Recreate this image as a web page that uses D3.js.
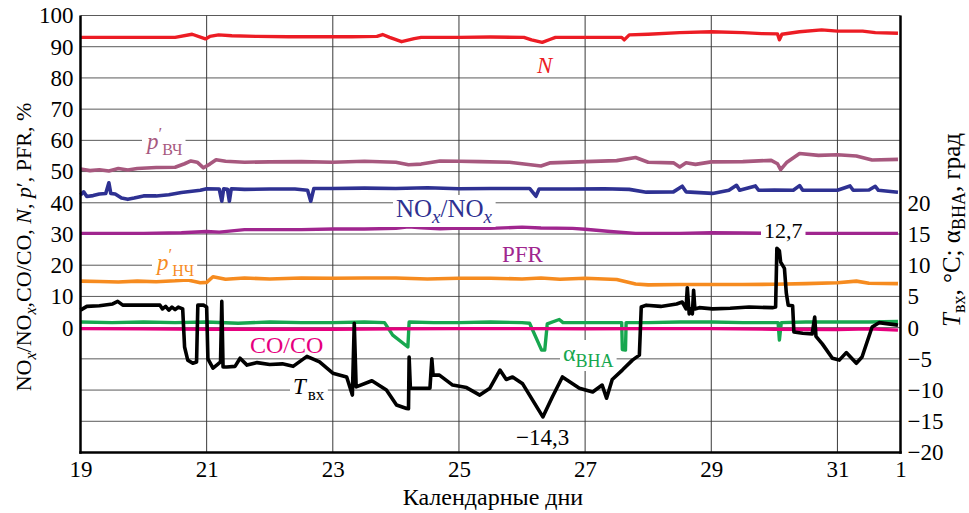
<!DOCTYPE html>
<html><head><meta charset="utf-8">
<script src="https://cdn.jsdelivr.net/npm/d3@7"></script>
<style>
body{margin:0;background:#fff}
svg{display:block}
</style>
</head><body>
<svg id="c" width="969" height="513" font-family="'Liberation Serif', 'DejaVu Serif', serif"></svg>
<script>
// ---------- data (day of month, value) ----------
const xTicks = [19,21,23,25,27,29,31,32];
const xTickLabels = ["19","21","23","25","27","29","31","1"];
const leftTicks = [0,10,20,30,40,50,60,70,80,90,100];
const rightTicks = [-20,-15,-10,-5,0,5,10,15,20];

// N, % (left axis)
const N_pts = [[19,93.0],[19.5,93.0],[20.0,93.0],[20.5,93.0],[20.77,94.0],[20.98,92.5],[21.05,93.3],[21.19,93.8],[21.4,93.5],[21.8,93.3],[22.3,93.2],[22.8,93.2],[23.3,93.2],[23.7,93.3],[23.79,93.9],[23.9,93.0],[24.09,91.6],[24.29,92.6],[24.4,93.0],[25,93.0],[25.5,93.1],[26.03,93.0],[26.15,92.2],[26.32,91.4],[26.45,92.4],[26.53,93.0],[27,93.0],[27.58,93.0],[27.62,92.2],[27.7,93.8],[28.0,94.0],[28.5,94.5],[29.0,94.8],[29.5,94.5],[29.8,94.2],[30.05,94.1],[30.08,92.2],[30.12,94.0],[30.4,94.8],[30.75,95.4],[31.0,95.0],[31.4,95.0],[31.6,94.5],[31.96,94.3]];
// p'ВЧ, %
const pVCh_pts = [[19,50.8],[19.15,50.3],[19.3,50.6],[19.45,50.2],[19.6,51.0],[19.75,50.5],[19.9,51.0],[20.2,51.3],[20.5,51.4],[20.65,52.5],[20.75,53.4],[20.85,53.0],[20.95,51.2],[21.05,52.4],[21.15,53.8],[21.3,53.3],[21.6,53.0],[22,53.1],[22.5,53.2],[23,53.0],[23.5,53.3],[24.0,53.0],[24.2,52.2],[24.4,52.4],[24.7,53.4],[25,53.3],[25.33,53.2],[25.8,53.0],[26.3,51.8],[26.45,52.8],[27.0,53.2],[27.5,53.5],[27.8,54.5],[28.0,53.0],[28.4,52.8],[28.5,51.5],[28.6,52.8],[28.75,52.3],[29,53.1],[29.5,53.2],[29.95,53.6],[30.05,52.5],[30.1,50.6],[30.2,53.0],[30.4,55.8],[30.7,55.2],[31.0,55.4],[31.3,55.0],[31.55,53.7],[31.96,53.9]];
// NOx/NOx, %
const NOx_pts = [[19,42.5],[19.05,43.5],[19.1,42.0],[19.2,42.3],[19.3,42.8],[19.4,43.0],[19.45,46.4],[19.48,43.0],[19.55,42.8],[19.65,41.5],[19.75,41.1],[19.85,41.5],[20.0,42.2],[20.2,42.2],[20.4,42.6],[20.6,43.3],[20.9,44.0],[21.0,44.5],[21.2,44.4],[21.24,40.5],[21.27,44.5],[21.33,44.3],[21.36,40.5],[21.39,44.5],[21.6,44.3],[22.0,44.4],[22.4,44.4],[22.6,44.0],[22.65,40.5],[22.7,44.6],[23.0,44.6],[23.5,44.7],[24.0,44.6],[24.5,44.8],[25.0,44.5],[25.5,44.6],[26.12,44.6],[26.22,42.1],[26.27,44.4],[26.8,44.4],[27.3,44.5],[27.7,44.3],[27.97,43.4],[28.4,43.5],[28.54,45.3],[28.6,43.5],[29.02,43.0],[29.28,44.0],[29.4,45.6],[29.45,44.0],[29.7,45.4],[29.75,44.0],[30.0,44.1],[30.3,44.0],[30.4,45.5],[30.45,44.0],[31.0,44.0],[31.2,45.4],[31.25,44.0],[31.5,44.1],[31.6,45.3],[31.65,44.0],[31.96,43.4]];
// PFR, %
const PFR_pts = [[19,30.2],[20,30.2],[20.6,30.4],[21.0,30.8],[21.2,30.6],[21.4,31.0],[21.6,31.4],[22.5,31.4],[23.0,31.6],[23.5,31.6],[24.0,31.8],[24.2,32.3],[24.4,32.0],[24.7,31.7],[25.0,31.9],[25.5,31.8],[26.0,32.2],[26.3,31.9],[26.8,31.8],[27.0,31.5],[27.4,30.8],[27.8,30.2],[28.5,30.2],[29,30.4],[29.5,30.3],[30,30.2],[31,30.2],[31.96,30.2]];
// p'НЧ, %
const pNCh_pts = [[19,14.9],[19.3,14.8],[19.6,14.6],[19.9,14.9],[20.2,14.7],[20.5,15.0],[20.7,15.3],[20.9,14.4],[21.0,14.5],[21.1,16.3],[21.3,15.5],[21.6,15.9],[22,15.6],[22.5,15.9],[23,15.8],[23.5,15.9],[24,15.9],[24.5,15.6],[25,15.8],[25.5,15.8],[26,15.6],[26.3,15.9],[26.6,15.5],[27,15.8],[27.5,15.4],[27.8,14.0],[28,13.7],[28.5,13.8],[29,13.8],[29.5,13.8],[30,13.9],[30.5,14.1],[31.0,14.4],[31.3,14.9],[31.5,14.2],[31.96,14.1]];
// CO/CO, %
const CO_pts = [[19,-0.3],[20,-0.4],[21,-0.5],[22,-0.5],[23,-0.5],[24,-0.4],[25,-0.3],[26,-0.3],[27,-0.4],[28,-0.3],[29,-0.3],[30,-0.5],[31,-0.6],[31.5,-0.4],[31.96,-0.8]];
// alpha ВНА, deg (right axis)
const alpha_pts = [[19,0.9],[19.5,0.8],[20,0.9],[20.5,0.8],[21,0.9],[21.5,0.7],[22,0.9],[22.5,0.8],[23,0.8],[23.5,0.9],[23.82,0.8],[23.95,-1.2],[24.19,-3.1],[24.21,0.9],[24.6,0.8],[25,0.8],[25.5,0.9],[26.0,0.8],[26.12,0.7],[26.31,-3.6],[26.36,-3.6],[26.40,0.6],[26.59,1.3],[26.65,0.8],[27.0,0.8],[27.58,0.8],[27.59,-3.5],[27.64,-3.6],[27.65,0.8],[28,0.8],[28.5,0.9],[29,0.9],[29.5,0.8],[30.06,0.8],[30.08,-2.0],[30.11,0.8],[30.5,0.9],[31,0.9],[31.5,0.9],[31.96,1.0]];
// T вх, °C (right axis)
const T_pts = [[19.00,2.8],[19.10,3.4],[19.30,3.5],[19.51,3.8],[19.59,4.2],[19.67,3.6],[20.00,3.6],[20.26,3.6],[20.30,3.0],[20.35,3.4],[20.40,2.8],[20.45,3.3],[20.50,2.9],[20.55,3.3],[20.62,3.0],[20.65,-3.1],[20.70,-5.2],[20.78,-5.7],[20.84,-5.5],[20.86,3.6],[20.95,3.6],[21.00,3.3],[21.02,-5.0],[21.10,-6.5],[21.16,-6.0],[21.22,-5.5],[21.24,4.2],[21.26,-6.3],[21.32,-6.3],[21.45,-6.2],[21.53,-4.9],[21.64,-6.0],[21.80,-5.6],[22.00,-5.9],[22.20,-5.8],[22.37,-6.2],[22.59,-4.6],[22.79,-5.5],[23.00,-7.3],[23.22,-7.9],[23.31,-10.8],[23.34,0.7],[23.37,-9.5],[23.62,-8.5],[23.85,-10.0],[24.01,-12.4],[24.17,-12.95],[24.20,-13.0],[24.21,-4.7],[24.23,-9.7],[24.54,-9.7],[24.57,-5.0],[24.59,-7.6],[24.69,-7.6],[24.90,-9.2],[25.12,-9.6],[25.33,-10.8],[25.49,-9.7],[25.65,-6.8],[25.75,-8.3],[25.85,-7.9],[26.01,-9.0],[26.33,-14.3],[26.48,-11.1],[26.64,-7.9],[26.91,-9.7],[27.12,-10.3],[27.27,-9.2],[27.34,-11.3],[27.43,-8.3],[27.59,-6.8],[27.75,-5.2],[27.86,-4.4],[27.89,3.3],[27.97,3.6],[28.20,3.4],[28.45,3.8],[28.54,4.1],[28.60,3.0],[28.62,6.4],[28.65,2.2],[28.68,3.0],[28.70,2.2],[28.72,6.0],[28.74,3.0],[28.81,3.2],[29.02,3.0],[29.30,3.1],[29.60,3.3],[29.97,3.2],[30.02,3.3],[30.04,12.7],[30.08,12.3],[30.10,10.5],[30.16,9.5],[30.19,5.5],[30.22,3.6],[30.29,3.5],[30.31,-0.7],[30.45,-0.9],[30.60,-1.0],[30.64,1.7],[30.66,-1.4],[30.76,-2.6],[30.92,-4.9],[31.03,-5.2],[31.14,-4.0],[31.30,-5.7],[31.39,-4.7],[31.55,0.1],[31.66,0.8],[31.96,0.4]];

// ---------- chart ----------
const FONT = "'Liberation Serif', 'DejaVu Serif', serif";
const svg = d3.select("#c");
const X0 = 80.5, X1 = 900.5, Y0 = 452.5, Y1 = 15.5;
const x = d3.scaleLinear().domain([19,32]).range([X0,X1]);
const yL = d3.scaleLinear().domain([-40,100]).range([Y0,Y1]);
const yR = d3.scaleLinear().domain([-20,50]).range([Y0,Y1]);

// grid
const grid = svg.append("g");
grid.selectAll("line.h").data(d3.range(-30,101,10)).join("line")
  .attr("x1",X0).attr("x2",X1).attr("y1",d=>yL(d)).attr("y2",d=>yL(d))
  .attr("stroke","#5a5a5a").attr("stroke-width",1);
grid.selectAll("line.v").data([21,23,25,27,29,31]).join("line")
  .attr("x1",d=>x(d)).attr("x2",d=>x(d)).attr("y1",Y1).attr("y2",Y0)
  .attr("stroke","#3a3a3a").attr("stroke-width",1);

// series
const series = [
  {pts:N_pts, y:yL, color:"#ec1c24", w:3.4},
  {pts:pVCh_pts, y:yL, color:"#a7587e", w:3.6},
  {pts:NOx_pts, y:yL, color:"#2e3192", w:3.6},
  {pts:PFR_pts, y:yL, color:"#a0268f", w:3.4},
  {pts:pNCh_pts, y:yL, color:"#f68b1f", w:3.6},
  {pts:alpha_pts, y:yR, color:"#17a74f", w:3.4},
  {pts:CO_pts, y:yL, color:"#e6007e", w:3.4},
  {pts:T_pts, y:yR, color:"#000000", w:3.6}
];
const lg = svg.append("g");
series.forEach(s=>{
  const line = d3.line().x(d=>x(d[0])).y(d=>s.y(d[1]));
  lg.append("path").attr("d",line(s.pts)).attr("fill","none")
    .attr("stroke",s.color).attr("stroke-width",s.w).attr("stroke-linejoin","round");
});

// axes frame
const fr = svg.append("g").attr("stroke","#000").attr("stroke-width",2.5);
fr.append("line").attr("x1",X0).attr("x2",X0).attr("y1",Y1).attr("y2",Y0+1.2);
fr.append("line").attr("x1",X1).attr("x2",X1).attr("y1",Y1).attr("y2",Y0+1.2);
fr.append("line").attr("x1",X0-1.2).attr("x2",X1+1.2).attr("y1",Y0).attr("y2",Y0);

// axis labels
const fs = 23;
const axL = svg.append("g").attr("transform",`translate(${X0},0)`)
  .call(d3.axisLeft(yL).tickValues(leftTicks).tickSize(0).tickPadding(7));
const axR = svg.append("g").attr("transform",`translate(${X1},0)`)
  .call(d3.axisRight(yR).tickValues(rightTicks).tickSize(0).tickPadding(7));
const axB = svg.append("g").attr("transform",`translate(0,${Y0})`)
  .call(d3.axisBottom(x).tickValues(xTicks).tickFormat((d,i)=>xTickLabels[i]).tickSize(0).tickPadding(8));
[axL,axR,axB].forEach(a=>{
  a.attr("font-family",FONT).attr("font-size",fs);
  a.select(".domain").remove();
  a.selectAll("text").attr("fill","#000");
});

// axis titles
svg.append("text").attr("x",493).attr("y",505).attr("text-anchor","middle")
  .attr("font-family",FONT).attr("font-size",24).text("Календарные дни");

const lt = svg.append("text").attr("transform","translate(31,247) rotate(-90)")
  .attr("text-anchor","middle").attr("font-family",FONT).attr("font-size",22);
lt.append("tspan").text("NO");
lt.append("tspan").attr("font-style","italic").attr("font-size",16).attr("dy",5).text("x");
lt.append("tspan").attr("dy",-5).text("/NO");
lt.append("tspan").attr("font-style","italic").attr("font-size",16).attr("dy",5).text("x");
lt.append("tspan").attr("dy",-5).text(",CO/CO, ");
lt.append("tspan").attr("font-style","italic").text("N");
lt.append("tspan").text(", ");
lt.append("tspan").attr("font-style","italic").text("p");
lt.append("tspan").text("′, PFR, %");

const rt = svg.append("text").attr("transform","translate(960,230) rotate(-90)")
  .attr("text-anchor","middle").attr("font-family",FONT).attr("font-size",25);
rt.append("tspan").attr("font-style","italic").text("T");
rt.append("tspan").attr("font-size",18).attr("dy",5).text("вх");
rt.append("tspan").attr("dy",-5).text(", °C; α");
rt.append("tspan").attr("font-size",18).attr("dy",5).text("ВНА");
rt.append("tspan").attr("dy",-5).text(", град");

// in-plot labels with white backgrounds
function label(xp, yp, color, size, build, bg=true){
  const g = svg.append("g");
  const t = g.append("text").attr("x",xp).attr("y",yp).attr("fill",color)
    .attr("font-family",FONT).attr("font-size",size);
  build(t);
  if(bg){
    const b = t.node().getBBox();
    g.insert("rect","text").attr("x",b.x-3).attr("y",b.y).attr("width",b.width+6)
      .attr("height",b.height).attr("fill","#fff");
  }
}
label(537, 73, "#ec1c24", 23, t=>t.append("tspan").attr("font-style","italic").text("N"), false);
label(147, 149, "#a7587e", 23, t=>{
  t.append("tspan").attr("font-style","italic").text("p");
  t.append("tspan").attr("font-size",17).attr("dy",-10).text("′");
  t.append("tspan").attr("font-size",16).attr("dy",16).text("ВЧ");
});
label(396, 217, "#2e3192", 25, t=>{
  t.append("tspan").text("NO");
  t.append("tspan").attr("font-style","italic").attr("font-size",19).attr("dy",6).text("x");
  t.append("tspan").attr("dy",-6).text("/NO");
  t.append("tspan").attr("font-style","italic").attr("font-size",19).attr("dy",6).text("x");
});
label(502, 262, "#a0268f", 23, t=>t.text("PFR"), false);
label(157, 270, "#f68b1f", 23, t=>{
  t.append("tspan").attr("font-style","italic").text("p");
  t.append("tspan").attr("font-size",17).attr("dy",-10).text("′");
  t.append("tspan").attr("font-size",16).attr("dy",16).text("НЧ");
});
label(250, 353, "#e6007e", 24, t=>t.text("CO/CO"), false);
label(293, 394, "#000", 23, t=>{
  t.append("tspan").attr("font-style","italic").text("T");
  t.append("tspan").attr("font-size",17).attr("dx",2).attr("dy",6).text("вх");
});
label(563, 361, "#17a74f", 24, t=>{
  t.append("tspan").text("α");
  t.append("tspan").attr("font-size",18).attr("dy",6).text("ВНА");
});
label(764, 238, "#000", 22, t=>t.text("12,7"));
label(516, 445, "#000", 23, t=>t.text("−14,3"), false);
</script>
</body></html>
